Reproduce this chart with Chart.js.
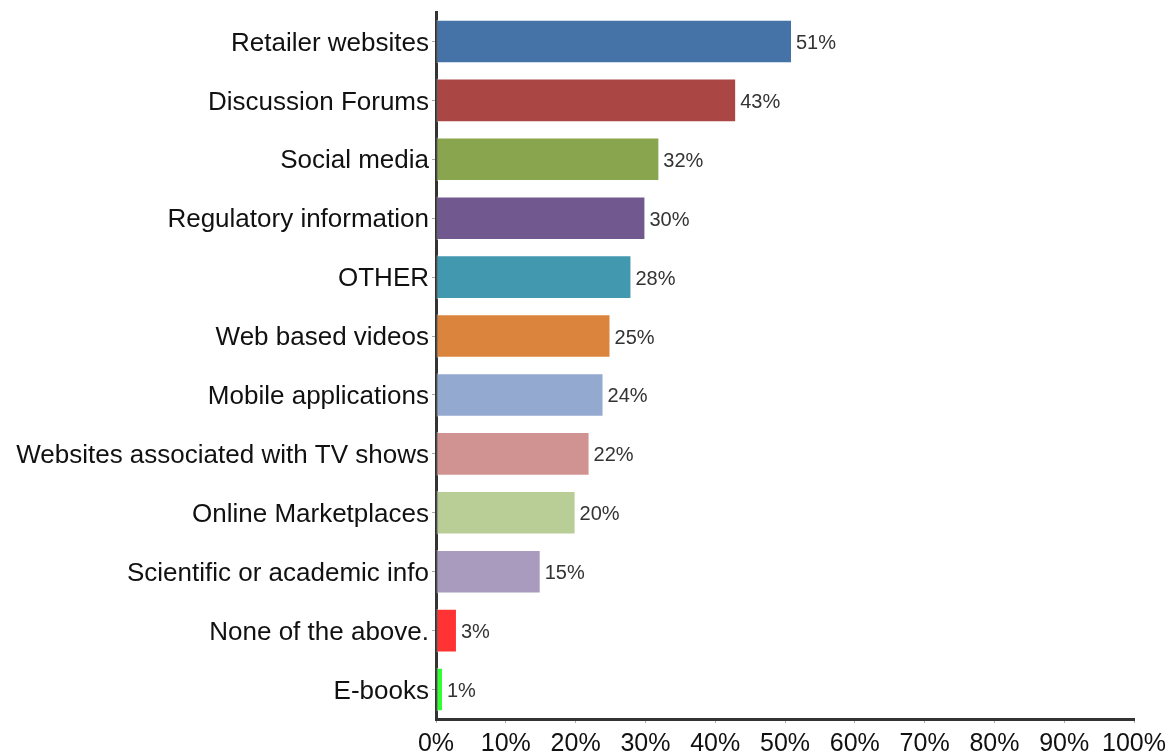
<!DOCTYPE html>
<html>
<head>
<meta charset="utf-8">
<title>Information sources</title>
<script src="https://cdn.jsdelivr.net/npm/chart.js@4"></script>
<style>
  body { margin: 0; background: #fff; }
  #wrap { width: 1172px; height: 755px; position: relative; }
</style>
</head>
<body>
<div id="wrap"><canvas id="myChart"></canvas></div>
<script>
// data
var labels = ['Retailer websites', 'Discussion Forums', 'Social media', 'Regulatory information', 'OTHER',
    'Web based videos', 'Mobile applications', 'Websites associated with TV shows', 'Online Marketplaces',
    'Scientific or academic info', 'None of the above.', 'E-books'];
var shares = [51, 43, 32, 30, 28, 25, 24, 22, 20, 15, 3, 1];
var xTicks = [0, 10, 20, 30, 40, 50, 60, 70, 80, 90, 100];
var barColors = ['#4572a7', '#aa4643', '#89a54e', '#71588f', '#4198af', '#db843d',
    '#93a9cf', '#d19392', '#b9cd96', '#a99bbd', '#ff3333', '#33ff33'];

var FONT = "'Liberation Sans', Arial, sans-serif";

// value text to the right of each bar
var valueLabels = {
    id: 'valueLabels',
    afterDatasetsDraw: function (chart) {
        var ctx = chart.ctx;
        var meta = chart.getDatasetMeta(0);
        ctx.save();
        ctx.font = '20px ' + FONT;
        ctx.fillStyle = '#333';
        ctx.textAlign = 'left';
        ctx.textBaseline = 'middle';
        meta.data.forEach(function (bar, i) {
            ctx.fillText(shares[i] + '%', bar.x + 4, bar.y + 2);
        });
        ctx.restore();
    }
};

var ctx = document.getElementById('myChart').getContext('2d');
var myChart = new Chart(ctx, {
    type: 'bar',
    data: {
        labels: labels,
        datasets: [{
            data: shares,
            backgroundColor: barColors,
            borderColor: 'rgba(255,255,255,0.45)',
            borderWidth: 1,
            borderSkipped: false,
            categoryPercentage: 1,
            barPercentage: 0.74
        }]
    },
    options: {
        indexAxis: 'y',
        responsive: true,
        maintainAspectRatio: false,
        animation: false,
        layout: { padding: { top: 12, right: 37, left: 0, bottom: 0 } },
        plugins: {
            legend: { display: false },
            tooltip: { enabled: false }
        },
        scales: {
            x: {
                min: 0,
                max: 100,
                afterBuildTicks: function (scale) {
                    scale.ticks = xTicks.map(function (v) { return { value: v }; });
                },
                afterFit: function (scale) { scale.height = 36; },
                ticks: {
                    font: { size: 25, family: FONT },
                    color: '#111',
                    padding: 6,
                    autoSkip: false,
                    maxRotation: 0,
                    minRotation: 0,
                    callback: function (v) { return v + '%'; }
                },
                grid: { drawOnChartArea: false, drawTicks: true, tickLength: 4, color: '#aaa' },
                border: { color: '#333', width: 3 }
            },
            y: {
                afterFit: function (scale) {
                    scale.width = 436;
                    scale.paddingTop = 0;
                    scale.paddingBottom = 0;
                },
                ticks: {
                    font: { size: 26, family: FONT },
                    color: '#111',
                    padding: 3,
                    labelOffset: 2,
                    autoSkip: false
                },
                grid: { offset: false, drawOnChartArea: false, drawTicks: true, tickLength: 4, color: '#aaa' },
                border: { color: '#333', width: 3 }
            }
        }
    },
    plugins: [valueLabels]
});
</script>
</body>
</html>
